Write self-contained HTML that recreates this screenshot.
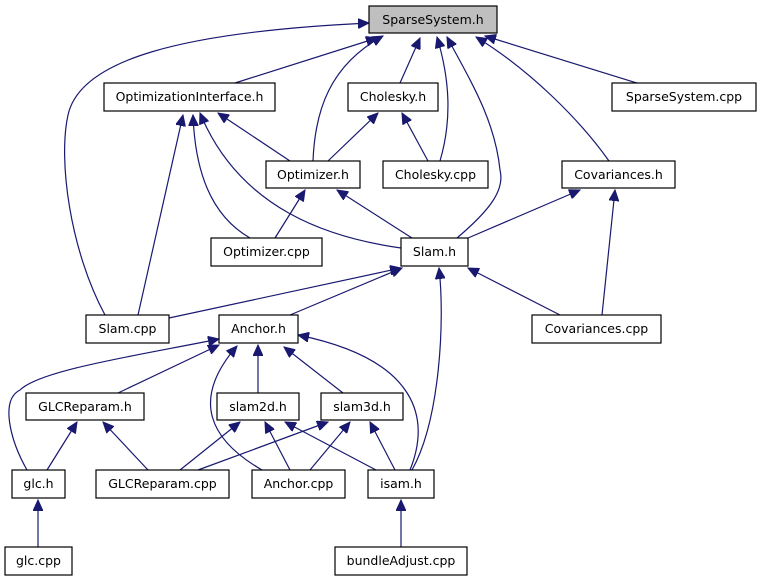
<!DOCTYPE html>
<html><head><meta charset="utf-8"><style>
html,body{margin:0;padding:0;background:#fff;}
svg{display:block;}
text{font-family:"DejaVu Sans","Liberation Sans",sans-serif;font-size:12.5px;fill:#000;text-anchor:middle;}
.n{fill:#fff;stroke:#000;stroke-width:1.2;}
.e{fill:none;stroke:#191970;stroke-width:1.2;marker-end:url(#a);}
</style></head><body>
<svg width="760" height="581" viewBox="0 0 760 581" xmlns="http://www.w3.org/2000/svg">
<defs><marker id="a" markerUnits="userSpaceOnUse" markerWidth="12" markerHeight="10" refX="11" refY="5" orient="auto"><path d="M0,0 L11,5 L0,10 z" fill="#191970" stroke="#191970"/></marker></defs>
<g>
<path class="e" d="M235,83 L377,38"/>
<path class="e" d="M105,315 C70,250 58,160 68,115 C80,60 180,32 369,23"/>
<path class="e" d="M313,161 C315,110 330,65 383,36"/>
<path class="e" d="M400,83 L420,38"/>
<path class="e" d="M440,161 C452,120 450,80 437,37"/>
<path class="e" d="M457,238 C490,210 505,190 500,170 C495,120 470,80 447,37"/>
<path class="e" d="M609,161 C580,120 530,70 476,37"/>
<path class="e" d="M637,83 L485,36"/>
<path class="e" d="M290,161 L218,113"/>
<path class="e" d="M401,248 C330,238 240,210 200,113"/>
<path class="e" d="M250,238 C210,215 195,170 193,115"/>
<path class="e" d="M138,315 L183,115"/>
<path class="e" d="M328,161 L378,113"/>
<path class="e" d="M428,161 L402,113"/>
<path class="e" d="M275,238 L305,190"/>
<path class="e" d="M412,238 L337,190"/>
<path class="e" d="M468,238 L580,190"/>
<path class="e" d="M602,315 L615,190"/>
<path class="e" d="M169,318 L401,268"/>
<path class="e" d="M290,315 L402,268"/>
<path class="e" d="M560,315 L468,268"/>
<path class="e" d="M412,470 C440,420 445,320 439,268"/>
<path class="e" d="M118,393 L219,345"/>
<path class="e" d="M27,470 C10,440 0,400 20,390 C40,370 140,355 219,339"/>
<path class="e" d="M262,470 C210,440 190,400 237,346"/>
<path class="e" d="M258,393 L258,345"/>
<path class="e" d="M343,393 L284,347"/>
<path class="e" d="M410,470 C430,420 420,360 298,335"/>
<path class="e" d="M47,470 L77,422"/>
<path class="e" d="M148,470 L103,422"/>
<path class="e" d="M180,470 L240,422"/>
<path class="e" d="M198,470 L328,422"/>
<path class="e" d="M290,470 L265,422"/>
<path class="e" d="M310,470 L350,422"/>
<path class="e" d="M376,470 L285,422"/>
<path class="e" d="M395,470 L370,422"/>
<path class="e" d="M38,547 L38,500"/>
<path class="e" d="M401,547 L401,500"/>
</g>
<g>
<rect x="369" y="6" width="128" height="27" fill="#bfbfbf" stroke="#000" stroke-width="1.2"/><text x="433" y="24">SparseSystem.h</text>
<rect class="n" x="104" y="83" width="171" height="28"/><text x="189.5" y="101">OptimizationInterface.h</text>
<rect class="n" x="348" y="83" width="90" height="28"/><text x="393" y="101">Cholesky.h</text>
<rect class="n" x="612" y="83" width="144" height="28"/><text x="684" y="101">SparseSystem.cpp</text>
<rect class="n" x="266" y="161" width="94" height="27"/><text x="313" y="179">Optimizer.h</text>
<rect class="n" x="383" y="161" width="105" height="27"/><text x="435.5" y="179">Cholesky.cpp</text>
<rect class="n" x="562" y="161" width="113" height="27"/><text x="618.5" y="179">Covariances.h</text>
<rect class="n" x="211" y="238" width="111" height="28"/><text x="266.5" y="256">Optimizer.cpp</text>
<rect class="n" x="401" y="238" width="67" height="28"/><text x="434.5" y="256">Slam.h</text>
<rect class="n" x="86" y="315" width="83" height="28"/><text x="127.5" y="333">Slam.cpp</text>
<rect class="n" x="219" y="315" width="79" height="28"/><text x="258.5" y="333">Anchor.h</text>
<rect class="n" x="532" y="315" width="129" height="28"/><text x="596.5" y="333">Covariances.cpp</text>
<rect class="n" x="26" y="393" width="118" height="27"/><text x="85" y="411">GLCReparam.h</text>
<rect class="n" x="217" y="393" width="82" height="27"/><text x="258" y="411">slam2d.h</text>
<rect class="n" x="321" y="393" width="82" height="27"/><text x="362" y="411">slam3d.h</text>
<rect class="n" x="12" y="470" width="53" height="28"/><text x="38.5" y="488">glc.h</text>
<rect class="n" x="96" y="470" width="133" height="28"/><text x="162.5" y="488">GLCReparam.cpp</text>
<rect class="n" x="252" y="470" width="93" height="28"/><text x="298.5" y="488">Anchor.cpp</text>
<rect class="n" x="368" y="470" width="66" height="28"/><text x="401" y="488">isam.h</text>
<rect class="n" x="5" y="547" width="67" height="28"/><text x="38.5" y="565">glc.cpp</text>
<rect class="n" x="335" y="547" width="132" height="28"/><text x="401" y="565">bundleAdjust.cpp</text>
</g>
</svg>
</body></html>
